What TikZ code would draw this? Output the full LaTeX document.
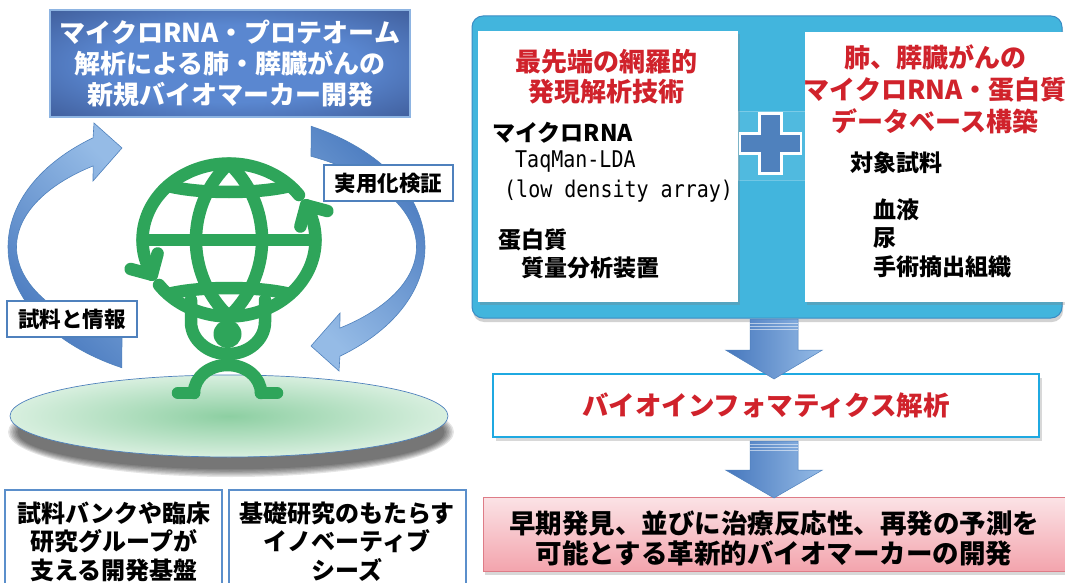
\documentclass[tikz,border=0pt]{standalone}
\usepackage{fontspec}
\newfontfamily\jp{Noto Sans CJK JP}
\newfontfamily\monolat{DejaVu Sans Mono}
\usetikzlibrary{shadows}

\definecolor{tmid}{HTML}{5A87D0}
\definecolor{tdark}{HTML}{202C5C}
\definecolor{titleedge}{HTML}{8DB4E2}
\definecolor{ringdark}{HTML}{4677BD}
\definecolor{ringlight}{HTML}{95BBE6}
\definecolor{ringedge}{HTML}{4F81BD}
\definecolor{globe}{HTML}{2EA55A}
\definecolor{panelcyan}{HTML}{42B5DD}
\definecolor{paneledge}{HTML}{3B8CC4}
\definecolor{plusblue}{HTML}{4F81BD}
\definecolor{headred}{HTML}{D0222B}
\definecolor{bioedge}{HTML}{1FA9E1}
\definecolor{pinktop}{HTML}{FBE3E6}
\definecolor{pinkbot}{HTML}{F3A4AD}
\definecolor{pinkedge}{HTML}{DE7C87}
\definecolor{boxedge}{HTML}{5B8FCB}
\definecolor{platin}{HTML}{8DCFA2}
\definecolor{platout}{HTML}{D8EFDF}

\pgfdeclareradialshading{titleglow}{\pgfpoint{0bp}{0bp}}{%
  color(0bp)=(tmid); color(18bp)=(tmid); color(40bp)=(tdark!55!tmid);
  color(52bp)=(tdark); color(100bp)=(tdark)}

% tall half-width Latin used in the technique list
\newcommand\tallmono[1]{\scalebox{1}[1.15]{#1}}

\tikzset{
  gl/.style={draw=globe, line width=12.5pt, line cap=round, line join=round},
  labelbox/.style={draw=ringedge, line width=1.6pt, fill=white, inner sep=0pt,
    minimum width=129pt, minimum height=36pt,
    font=\jp\bfseries\fontsize{21.5}{24}\selectfont},
  basebox/.style={draw=boxedge, line width=1.8pt, fill=white, inner sep=0pt},
  basetext/.style={font=\jp\bfseries\fontsize{24}{28.5}\selectfont, align=center, inner sep=0pt},
  redhead/.style={text=headred, font=\jp\bfseries\fontsize{26}{30}\selectfont, align=center, inner sep=0pt},
  item/.style={font=\jp\bfseries\fontsize{23}{28}\selectfont, anchor=west, inner sep=0pt},
  monoitem/.style={font=\monolat\fontsize{20}{24}\selectfont, anchor=west, inner sep=0pt},
  whitebox/.style={fill=white, inner sep=0pt,
    drop shadow={shadow xshift=2pt, shadow yshift=-3pt, opacity=0.3}},
  blockarrow/.style={left color=ringdark, right color=ringlight, draw=ringedge, line width=0.5pt},
  stripe/.style={draw=white, opacity=0.55, line width=0.7pt},
  ring/.style={draw=ringedge, line width=0.6pt}
}

\begin{document}
\begin{tikzpicture}[x=1pt, y=-1pt]
\path[use as bounding box, clip] (0,0) rectangle (1065,583);
\fill[white] (0,0) rectangle (1065,583);

% ---------- platform with its soft shadow ----------
\foreach \k in {0,...,6}
  \fill[black, opacity=0.1] (231,432) ellipse [x radius={223-1.6*\k}, y radius={45-1.3*\k}];
\shadedraw[inner color=platin, outer color=platout, draw=ringedge, line width=0.7pt]
  (229,416) ellipse [x radius=219, y radius=41];

% ---------- circular cycle arrows ----------
\shadedraw[ring, top color=ringlight, bottom color=ringdark, shading angle=-45]
  plot[domain=117:233.7, samples=60] ({216.5+208.5*cos(\x)}, {247+135.5*sin(\x)})
  -- (94,123) -- (122,148) -- (93,181)
  -- plot[domain=231.9:118.2, samples=60] ({216.5+200*cos(\x)}, {247+103*sin(\x)})
  -- cycle;
\shadedraw[ring, top color=ringdark, bottom color=ringlight, shading angle=-45]
  plot[domain=117:233.7, samples=60] ({216.5-208.5*cos(\x)}, {247-135.5*sin(\x)})
  -- (339,371) -- (311,346) -- (340,313)
  -- plot[domain=231.9:118.2, samples=60] ({216.5-200*cos(\x)}, {247-103*sin(\x)})
  -- cycle;

\node[labelbox] (practical) at (388.5,183) {実用化検証};
\node[labelbox, minimum width=130pt] (samples) at (72,319) {試料と情報};

% ---------- globe held by a figure ----------
% outline in two arcs, each ending in a chevron
\draw[gl] plot[domain=-36:-207, samples=80] ({229+86.5*cos(\x)}, {240+76.5*sin(\x)});
\draw[gl] plot[domain=144:-27, samples=80] ({229+86.5*cos(\x)}, {240+76.5*sin(\x)});
\draw[gl] (300.4,226.5) -- (306.1,205.3) -- (327.3,211);
\draw[gl] (157.6,253.5) -- (151.9,274.7) -- (130.7,269);
% equator, latitudes, meridian
\draw[gl] (142.5,240) -- (315.5,240);
\draw[gl] (168,186) .. controls (200,194) and (258,194) .. (290,186);
\draw[gl] (168,294) .. controls (200,286) and (258,286) .. (290,294);
\draw[gl] (229,163.5) arc[start angle=-46.7, end angle=46.7, radius=105.2]
                      arc[start angle=133.3, end angle=226.7, radius=105.2];
% arms, head, legs, feet
\draw[gl] (191,300) -- (191,322) arc[start angle=180, end angle=0, x radius=37, y radius=32] -- (265,300);
\fill[globe] (227.5,334) circle[radius=14];
\draw[gl] (194,393) arc[start angle=180, end angle=360, x radius=33.5, y radius=28];
\draw[gl] (178,393) -- (194,393);
\draw[gl] (261,393) -- (277,393);

% ---------- title ----------
\node[draw=titleedge, line width=1.5pt, shade, shading=titleglow,
      minimum width=360pt, minimum height=107pt, inner sep=0pt,
      text=white, align=center, font=\jp\bfseries\fontsize{26}{31}\selectfont] (title) at (230,63.5)
  {マイクロRNA・プロテオーム\\解析による肺・膵臓がんの\\新規バイオマーカー開発};

% ---------- bottom left boxes ----------
\node[basebox, minimum width=217pt, minimum height=120pt] (bank) at (113.5,550) {};
\node[basetext] (banktext) at (114,541.5) {試料バンクや臨床\\研究グループが\\支える開発基盤};
\node[basebox, minimum width=237pt, minimum height=120pt] (seeds) at (347.5,550) {};
\node[basetext] (seedstext) at (347,541.5) {基礎研究のもたらす\\イノベーティブ\\シーズ};

% ---------- right panel ----------
\node[fill=panelcyan, draw=paneledge, line width=1pt, rounded corners=11pt,
      minimum width=590pt, minimum height=302pt, inner sep=0pt,
      drop shadow={shadow xshift=1pt, shadow yshift=-4pt, opacity=0.35}] (panel) at (767,167) {};
\draw[white, opacity=0.25, fill=white, fill opacity=0.08] (738,111) rectangle (805,180);
\node[whitebox, minimum width=260pt, minimum height=271pt] (tech) at (608,166.5) {};
\node[whitebox, minimum width=265pt, minimum height=270pt] (db) at (937.5,167) {};

\draw[fill=plusblue, draw=white, line width=2.4pt]
  (740,133.5) -- (759.5,133.5) -- (759.5,113.5) -- (781.5,113.5) -- (781.5,133.5)
  -- (801,133.5) -- (801,153.5) -- (781.5,153.5) -- (781.5,173.5) -- (759.5,173.5)
  -- (759.5,153.5) -- (740,153.5) -- cycle;

\node[redhead] (techhead) at (606,76.5) {最先端の網羅的\\発現解析技術};
\node[item] (mirna) at (492,133) {マイクロRNA};
\node[monoitem] (taqman) at (515,162) {\tallmono{TaqMan-LDA}};
\node[monoitem] (lda) at (504,191) {\tallmono{(low density array)}};
\node[item] (protein) at (498,240) {蛋白質};
\node[item] (ms) at (521,268) {質量分析装置};

\node[redhead, font=\jp\bfseries\fontsize{26}{32}\selectfont] (dbhead) at (935,89) {肺、膵臓がんの\\マイクロRNA・蛋白質\\データベース構築};
\node[item] (target) at (850,163) {対象試料};
\node[item] (blood) at (873,210) {血液};
\node[item] (urine) at (873,238) {尿};
\node[item] (tissue) at (873,267) {手術摘出組織};

% ---------- analysis flow ----------
\node[draw=bioedge, line width=2.5pt, fill=white, minimum width=546pt, minimum height=63pt, inner sep=0pt,
      drop shadow={shadow xshift=3pt, shadow yshift=-4pt, opacity=0.3},
      text=headred, font=\jp\bfseries\fontsize{26.5}{30}\selectfont] (bio) at (766,405.5) {バイオインフォマティクス解析};

\node[draw=pinkedge, line width=1pt, top color=pinktop, bottom color=pinkbot,
      minimum width=587pt, minimum height=74pt, inner sep=0pt,
      drop shadow={shadow xshift=2pt, shadow yshift=-4pt, opacity=0.3}] (goal) at (776.5,534) {};
\node[font=\jp\bfseries\fontsize{26.5}{30}\selectfont, align=center, inner sep=0pt] (goaltext) at (774,538)
  {早期発見、並びに治療反応性、再発の予測を\\可能とする革新的バイオマーカーの開発};

\shadedraw[blockarrow] (750,319) -- (798,319) -- (798,350) -- (822.5,350) -- (774,379) -- (725.5,350) -- (750,350) -- cycle;
\draw[stripe] (750,323) -- (798,323) (750,326) -- (798,326) (750,329) -- (798,329);
\shadedraw[blockarrow] (750,441) -- (798,441) -- (798,470) -- (822.5,470) -- (774,498) -- (725.5,470) -- (750,470) -- cycle;
\draw[stripe] (750,444) -- (798,444) (750,447) -- (798,447) (750,450) -- (798,450);
\end{tikzpicture}
\end{document}
